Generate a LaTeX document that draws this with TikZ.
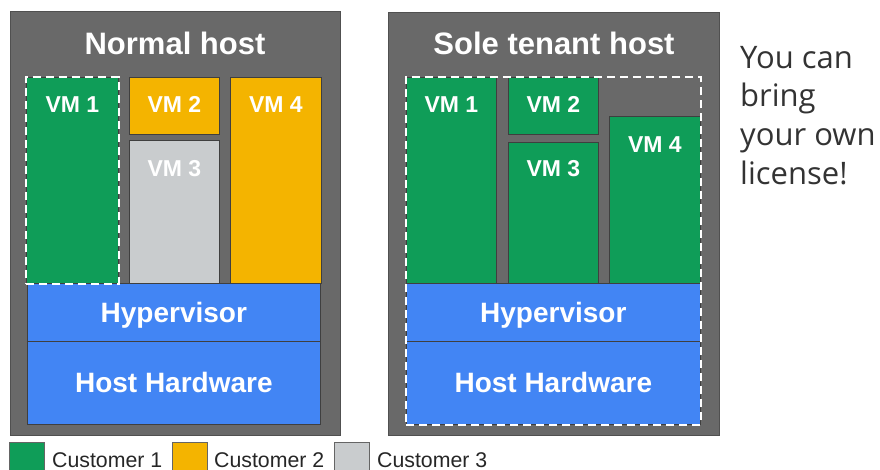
\documentclass[tikz,border=0pt]{standalone}
\usepackage{fontspec}
\setmainfont{Liberation Sans}
\newfontfamily\notefont{Open Sans}
\usetikzlibrary{positioning, fit}

\definecolor{hostgray}{HTML}{696969}
\definecolor{hostline}{HTML}{505050}
\definecolor{boxline}{HTML}{3F3F3F}
\definecolor{cgreen}{HTML}{0F9D58}
\definecolor{corange}{HTML}{F4B400}
\definecolor{cgray}{HTML}{C9CCCE}
\definecolor{cblue}{HTML}{4285F4}
\definecolor{notetext}{HTML}{333333}

\tikzset{
    hostbox/.style={draw=hostline, fill=hostgray, line width=0.8pt, anchor=north west, inner sep=0pt},
    vmbox/.style={draw=boxline, line width=0.7pt, anchor=north west, inner sep=0pt},
    layerbox/.style={draw=boxline, fill=cblue, line width=0.7pt, anchor=north west, inner sep=0pt, minimum height=#1},
    tenant/.style={draw=white, line width=2.2pt, dash pattern=on 8pt off 5pt, inner sep=0pt},
    hosttitle/.style={text=white, font=\bfseries\fontsize{31}{36}\selectfont, anchor=base, inner sep=0pt},
    vmlabel/.style={text=white, font=\bfseries\fontsize{23}{27}\selectfont, anchor=base, inner sep=0pt},
    layerlabel/.style={text=white, font=\bfseries\fontsize{28}{33}\selectfont, anchor=base, inner sep=0pt},
    legbox/.style={draw=boxline!80, line width=0.7pt, anchor=north west, inner sep=0pt, minimum width=35pt, minimum height=30pt},
    legtext/.style={text=black!85, font=\fontsize{21.3}{25}\selectfont, anchor=base west, inner sep=0pt},
}

\begin{document}
\begin{tikzpicture}[x=1pt, y=-1pt]
    \useasboundingbox (0,0) rectangle (880,470);

    %Normal host
    \node[hostbox, minimum width=330pt, minimum height=424pt] (nhost) at (10,11) {};
    \node[hosttitle] (ntitle) at (175,55) {Normal host};
    \node[vmbox, fill=cgreen, minimum width=92pt, minimum height=206pt] (nvm1) at (26,77) {};
    \node[vmbox, fill=corange, minimum width=90pt, minimum height=57pt] (nvm2) at (129,77) {};
    \node[vmbox, fill=cgray, minimum width=90pt, minimum height=143pt] (nvm3) at (129,140) {};
    \node[vmbox, fill=corange, minimum width=91pt, minimum height=206pt] (nvm4) at (230,77) {};
    \node[layerbox=58pt, minimum width=293pt] (nhyp) at (27,283) {};
    \node[layerbox=83pt, minimum width=293pt] (nhw) at (27,341) {};
    %labels
    \node[vmlabel] (nvm1t) at ([yshift=-36pt]nvm1.north) {VM 1};
    \node[vmlabel] (nvm2t) at ([yshift=-36pt]nvm2.north) {VM 2};
    \node[vmlabel] (nvm3t) at ([yshift=-37pt]nvm3.north) {VM 3};
    \node[vmlabel] (nvm4t) at ([yshift=-36pt]nvm4.north) {VM 4};
    \node[layerlabel] (nhypt) at ([yshift=-10pt]nhyp.center) {Hypervisor};
    \node[layerlabel] (nhwt) at ([yshift=-10pt]nhw.center) {Host Hardware};
    %customer 1 only owns VM 1
    \node[tenant, fit=(nvm1)] (nown) {};

    %Sole tenant host
    \node[hostbox, minimum width=331pt, minimum height=423pt] (shost) at (388,12) {};
    \node[hosttitle] (stitle) at (554,55) {Sole tenant host};
    \node[vmbox, fill=cgreen, minimum width=90pt, minimum height=206pt] (svm1) at (406,77) {};
    \node[vmbox, fill=cgreen, minimum width=90pt, minimum height=57pt] (svm2) at (508,77) {};
    \node[vmbox, fill=cgreen, minimum width=90pt, minimum height=141pt] (svm3) at (508,142) {};
    \node[vmbox, fill=cgreen, minimum width=91pt, minimum height=167pt] (svm4) at (609,116) {};
    \node[layerbox=58pt, minimum width=294pt] (shyp) at (406,283) {};
    \node[layerbox=83pt, minimum width=294pt] (shw) at (406,341) {};
    %labels
    \node[vmlabel] (svm1t) at ([yshift=-36pt]svm1.north) {VM 1};
    \node[vmlabel] (svm2t) at ([yshift=-36pt]svm2.north) {VM 2};
    \node[vmlabel] (svm3t) at ([yshift=-35pt]svm3.north) {VM 3};
    \node[vmlabel] (svm4t) at ([yshift=-37pt]svm4.north) {VM 4};
    \node[layerlabel] (shypt) at ([yshift=-10pt]shyp.center) {Hypervisor};
    \node[layerlabel] (shwt) at ([yshift=-10pt]shw.center) {Host Hardware};
    %customer 1 owns the whole host
    \node[tenant, fit=(svm1)(shw)] (sown) {};

    %note
    \node[anchor=north west, inner sep=0pt, align=left, text=notetext,
          font=\notefont\fontsize{31}{38.6}\selectfont] (note) at (740,46)
          {You can\\bring\\your own\\license!};

    %legend
    \node[legbox, fill=cgreen] (leg1) at (9,442) {};
    \node[legtext] (leg1t) at (52,467) {Customer 1};
    \node[legbox, fill=corange] (leg2) at (172,442) {};
    \node[legtext] (leg2t) at (214,467) {Customer 2};
    \node[legbox, fill=cgray] (leg3) at (334,442) {};
    \node[legtext] (leg3t) at (377,467) {Customer 3};
\end{tikzpicture}
\end{document}
